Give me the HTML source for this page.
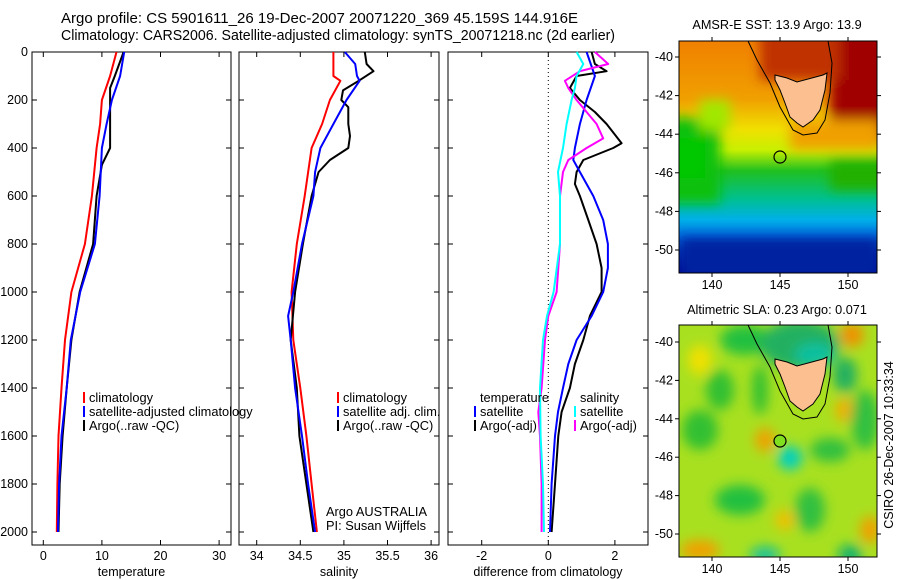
<!DOCTYPE html>
<html><head><meta charset="utf-8"><style>
body{margin:0;background:#fff;}
svg{display:block;font-family:"Liberation Sans",sans-serif;}
</style></head><body>
<svg id="fig" width="900" height="580" viewBox="0 0 900 580" xmlns="http://www.w3.org/2000/svg">
<defs>
<filter id="bl" x="-20%" y="-20%" width="140%" height="140%"><feGaussianBlur stdDeviation="6"/></filter>
<clipPath id="c1"><rect x="679" y="41" width="198" height="232"/></clipPath>
<clipPath id="c2"><rect x="679" y="325" width="198" height="232"/></clipPath>
<linearGradient id="sstg" x1="0" y1="0" x2="0" y2="1">
<stop offset="0" stop-color="#f08000"/><stop offset="0.25" stop-color="#f0a000"/><stop offset="0.38" stop-color="#f0e000"/>
<stop offset="0.47" stop-color="#c8f000"/><stop offset="0.56" stop-color="#20c020"/><stop offset="0.68" stop-color="#00c090"/>
<stop offset="0.77" stop-color="#00b0e8"/><stop offset="0.84" stop-color="#0070e0"/><stop offset="0.92" stop-color="#0030b0"/><stop offset="1" stop-color="#000090"/>
</linearGradient>
</defs>
<g font-size="14.5">
<text x="61" y="23" textLength="517" lengthAdjust="spacingAndGlyphs">Argo profile: CS 5901611_26 19-Dec-2007 20071220_369 45.159S 144.916E</text>
<text x="61" y="40" textLength="554" lengthAdjust="spacingAndGlyphs">Climatology: CARS2006. Satellite-adjusted climatology: synTS_20071218.nc (2d earlier)</text>
</g>
<g id="axes"></g>
<g id="series"></g>

<g>
<text x="777" y="29" font-size="12.7" text-anchor="middle">AMSR-E SST: 13.9 Argo: 13.9</text>
<g clip-path="url(#c1)">
<rect x="679" y="41" width="198" height="232" fill="url(#sstg)"/>
<g filter="url(#bl)">
<rect x="660" y="118" width="60" height="85" fill="#10c010"/>
<rect x="660" y="138" width="45" height="40" fill="#00c800"/>
<rect x="700" y="100" width="30" height="30" fill="#a0e800"/>
<rect x="830" y="20" width="60" height="120" fill="#a00000"/>
<rect x="760" y="30" width="80" height="50" fill="#c03000"/>
<rect x="790" y="120" width="90" height="30" fill="#f0a000"/>
<rect x="830" y="160" width="60" height="30" fill="#20b000"/>
<rect x="680" y="238" width="200" height="40" fill="#0020a0"/>
</g>
</g>
<path d="M748,41 L757,60 L770,83 L780,107 L793,130 L803,135 L817,133 L825,120 L830,93 L832,63 L828,41" fill="none" stroke="#000" stroke-width="1"/>
<polygon points="775,75 787,78 797,82 823,75 827,73 825,90 820,110 813,120 803,127 797,123 790,117 785,103 780,90 775,80" fill="#fcc090" stroke="#000" stroke-width="1"/>
<circle cx="780" cy="157" r="6" fill="none" stroke="#000" stroke-width="1.2"/>
<rect x="679" y="41" width="198" height="232" fill="none" stroke="#000"/>
</g>

<g>
<text x="777" y="314" font-size="12.7" text-anchor="middle">Altimetric SLA: 0.23 Argo: 0.071</text>
<g clip-path="url(#c2)">
<rect x="679" y="325" width="198" height="232" fill="#a8e020"/>
<g filter="url(#bl)">
<ellipse cx="745" cy="340" rx="25" ry="15" fill="#20c040"/>
<ellipse cx="800" cy="345" rx="40" ry="25" fill="#20b060"/>
<ellipse cx="815" cy="355" rx="20" ry="12" fill="#10c0a0"/>
<ellipse cx="852" cy="335" rx="12" ry="12" fill="#f09000"/>
<ellipse cx="845" cy="375" rx="12" ry="18" fill="#20b060"/>
<ellipse cx="700" cy="360" rx="12" ry="15" fill="#f0e000"/>
<ellipse cx="720" cy="390" rx="14" ry="20" fill="#30c030"/>
<ellipse cx="700" cy="430" rx="18" ry="20" fill="#30c030"/>
<ellipse cx="760" cy="390" rx="8" ry="25" fill="#30c030"/>
<ellipse cx="765" cy="440" rx="10" ry="12" fill="#f0a000"/>
<ellipse cx="790" cy="458" rx="12" ry="12" fill="#00d0c0"/>
<ellipse cx="830" cy="450" rx="20" ry="12" fill="#30c040"/>
<ellipse cx="845" cy="410" rx="10" ry="12" fill="#f0b000"/>
<ellipse cx="865" cy="420" rx="14" ry="30" fill="#30c040"/>
<ellipse cx="740" cy="500" rx="25" ry="15" fill="#20c040"/>
<ellipse cx="810" cy="510" rx="15" ry="22" fill="#30c040"/>
<ellipse cx="785" cy="520" rx="10" ry="10" fill="#f0c000"/>
<ellipse cx="870" cy="530" rx="10" ry="14" fill="#f0a000"/>
<ellipse cx="700" cy="550" rx="20" ry="10" fill="#f0a000"/>
<ellipse cx="765" cy="555" rx="15" ry="8" fill="#10c0a0"/>
<ellipse cx="850" cy="555" rx="12" ry="10" fill="#10b070"/>
</g>
</g>
<path d="M748,325 L757,344 L770,367 L780,391 L793,414 L803,419 L817,417 L825,404 L830,377 L832,347 L828,325" fill="none" stroke="#000" stroke-width="1"/>
<polygon points="775,359 787,362 797,366 823,359 827,357 825,374 820,394 813,404 803,411 797,407 790,401 785,387 780,374 775,364" fill="#fcc090" stroke="#000" stroke-width="1"/>
<circle cx="780" cy="441" r="6" fill="#80e020" stroke="#000" stroke-width="1.2"/>
<rect x="679" y="325" width="198" height="232" fill="none" stroke="#000"/>
</g>
<text transform="translate(893,445) rotate(-90)" font-size="12.5" text-anchor="middle">CSIRO 26-Dec-2007 10:33:34</text>
<g id="mapaxes"></g>
</svg>
<script>
const tDepthClim = [0,100,200,300,400,600,800,1000,1200,1400,1600,1800,2000];
const tempClim   = [12.5,11.4,10.0,9.7,9.1,8.3,7.1,4.8,3.7,3.1,2.6,2.4,2.3];
const tDepthSat  = [0,100,200,300,400,600,800,1000,1200,1400,1600,1800,2000];
const tempSat    = [13.8,13.1,11.7,10.8,10.0,9.6,8.8,6.3,4.7,4.0,3.1,2.7,2.5];
const tDepthArgo = [0,100,150,200,300,400,470,600,800,1000,1200,1400,1600,1800,2000];
const tempArgo   = [13.7,12.2,11.4,11.4,11.4,11.4,10.0,9.1,8.5,6.2,4.8,4.0,3.3,2.8,2.6];

const sDepthClim = [0,100,120,200,300,400,600,800,1000,1200,1400,1600,1800,2000];
const salClim    = [34.88,34.88,34.96,34.84,34.75,34.63,34.55,34.46,34.40,34.42,34.50,34.57,34.63,34.69];
const sDepthSat  = [0,50,100,120,200,300,400,500,600,800,1000,1100,1200,1400,1600,1800,2000];
const salSat     = [35.01,35.13,35.15,35.18,35.03,34.88,34.73,34.67,34.65,34.52,34.42,34.36,34.39,34.44,34.52,34.59,34.67];
const sDepthArgo = [0,50,80,120,160,200,230,300,350,400,450,500,600,800,1000,1200,1400,1600,1800,2000];
const salArgo    = [35.24,35.26,35.34,35.17,34.99,34.97,35.05,35.05,35.07,35.05,34.84,34.71,34.63,34.53,34.44,34.39,34.46,34.49,34.57,34.65];

const dDepthTSat = [0,100,200,300,400,450,500,600,700,800,900,1000,1100,1200,1300,1400,1500,1600,1800,2000];
const diffTSat   = [1.15,1.40,1.15,0.95,0.80,0.75,0.95,1.35,1.65,1.79,1.79,1.65,1.30,0.85,0.60,0.44,0.29,0.20,0.10,0.05];
const dDepthTArgo= [0,50,80,100,150,200,250,300,380,400,450,500,550,600,700,800,900,1000,1100,1200,1300,1400,1500,1600,1800,2000];
const diffTArgo  = [1.30,1.40,1.75,0.85,0.65,0.95,1.40,1.75,2.20,1.95,1.05,0.85,0.80,0.95,1.20,1.45,1.60,1.60,1.25,1.05,0.80,0.65,0.40,0.30,0.20,0.10];
const dDepthSSat = [0,50,100,150,200,300,400,500,600,800,1000,1100,1200,1400,1600,1800,2000];
const diffSSat   = [0.85,1.05,0.85,0.80,0.70,0.55,0.44,0.29,0.35,0.35,0.16,-0.04,-0.16,-0.25,-0.23,-0.16,-0.13];
const dDepthSArgo= [0,50,80,120,150,200,250,300,360,400,450,500,600,800,1000,1100,1200,1400,1500,1600,1800,2000];
const diffSArgo  = [1.40,1.80,0.95,0.50,0.60,0.85,1.15,1.45,1.65,1.15,0.60,0.44,0.35,0.35,0.25,0.00,-0.10,-0.20,-0.30,-0.25,-0.20,-0.20];

const depthTicks = [0,200,400,600,800,1000,1200,1400,1600,1800,2000];
const tempTicks = [0,10,20,30];
const salTicks = [34,34.5,35,35.5,36];
const salTickLabels = ["34","34.5","35","35.5","36"];
const diffTicks = [-2,0,2];
const lonTicks = [140,145,150];
const latTicks = [-40,-42,-44,-46,-48,-50];

const NS="http://www.w3.org/2000/svg";
function mk(tag, attrs, parent, txt){const e=document.createElementNS(NS,tag);for(const k in attrs)e.setAttribute(k,attrs[k]);if(txt!==undefined)e.textContent=txt;parent.appendChild(e);return e;}
const yD = d => 52 + d*0.24;
const panels = [
 {x0:32,x1:231,ax:v=>43.3+v*5.86,ticks:tempTicks,labels:tempTicks.map(String),title:"temperature",name:"temperature-panel"},
 {x0:239,x1:439,ax:v=>256.7+(v-34)*87.2,ticks:salTicks,labels:salTickLabels,title:"salinity",name:"salinity-panel"},
 {x0:448,x1:648,ax:v=>548.3+v*33.3,ticks:diffTicks,labels:diffTicks.map(String),title:"difference from climatology",name:"difference-panel"}
];
const axg=document.getElementById('axes');
panels.forEach((p,i)=>{
  const g=mk('g',{},axg);
  
  
  mk('rect',{x:p.x0,y:52,width:p.x1-p.x0,height:493,fill:'none',stroke:'#000','stroke-width':1},g);
  p.ticks.forEach((t,j)=>{const x=p.ax(t);
    mk('line',{x1:x,y1:545,x2:x,y2:540,stroke:'#000'},g);
    mk('line',{x1:x,y1:52,x2:x,y2:57,stroke:'#000'},g);
    const tl=mk('text',{x:x,y:560,'font-size':12.5,'text-anchor':'middle'},g,p.labels[j]);
    
    
  });
  depthTicks.forEach(d=>{const y=yD(d);
    mk('line',{x1:p.x0,y1:y,x2:p.x0+5,y2:y,stroke:'#000'},g);
    mk('line',{x1:p.x1,y1:y,x2:p.x1-5,y2:y,stroke:'#000'},g);
    if(i===0){const tl=mk('text',{x:28,y:y+4,'font-size':12.5,'text-anchor':'end'},g,String(d));
      
      }
  });
  const at=mk('text',{x:(p.x0+p.x1)/2,y:576,'font-size':12.5,'text-anchor':'middle'},g,p.title);
  
  
});
mk('line',{x1:548.3,y1:52,x2:548.3,y2:545,stroke:'#000','stroke-dasharray':'1,3'},axg);

const sg=document.getElementById('series');
function line(p,depths,vals,color,name){
  const pts=depths.map((d,k)=>p.ax(vals[k]).toFixed(1)+','+yD(d).toFixed(1)).join(' ');
  const l=mk('polyline',{points:pts,fill:'none',stroke:color,'stroke-width':2,'stroke-linejoin':'round'},sg);
  
  
}
line(panels[0],tDepthClim,tempClim,'#f00','temp-climatology-line');
line(panels[0],tDepthArgo,tempArgo,'#000','temp-argo-line');
line(panels[0],tDepthSat,tempSat,'#00f','temp-satellite-line');
line(panels[1],sDepthClim,salClim,'#f00','sal-climatology-line');
line(panels[1],sDepthArgo,salArgo,'#000','sal-argo-line');
line(panels[1],sDepthSat,salSat,'#00f','sal-satellite-line');
line(panels[2],dDepthTArgo,diffTArgo,'#000','diff-temp-argo-line');
line(panels[2],dDepthTSat,diffTSat,'#00f','diff-temp-satellite-line');
line(panels[2],dDepthSArgo,diffSArgo,'#f0f','diff-sal-argo-line');
line(panels[2],dDepthSSat,diffSSat,'#0ff','diff-sal-satellite-line');

function legend(x,y,items,name){
  const g=mk('g',{},sg);
  
  
  items.forEach((it,k)=>{const yy=y+k*14;
    if(it[1]){mk('rect',{x:x,y:yy-10,width:2,height:11,fill:it[1]},g);}
    const t=mk('text',{x:x+6,y:yy,'font-size':12.8},g,it[0]);
    
    
  });
}
legend(83,402,[["climatology","#f00"],["satellite-adjusted climatology","#00f"],["Argo(..raw -QC)","#000"]],'temp-legend');
legend(337,402,[["climatology","#f00"],["satellite adj. clim.","#00f"],["Argo(..raw -QC)","#000"]],'sal-legend');
legend(474,402,[["temperature",null],["satellite","#00f"],["Argo(-adj)","#000"]],'diff-temp-legend');
legend(574,402,[["salinity",null],["satellite","#0ff"],["Argo(-adj)","#f0f"]],'diff-sal-legend');
const a1=mk('text',{x:326,y:516,'font-size':12.8},sg,'Argo AUSTRALIA');


const a2=mk('text',{x:326,y:530,'font-size':12.8},sg,'PI: Susan Wijffels');



const mg=document.getElementById('mapaxes');
[[41,273,57,250],[325,557,342,534]].forEach(m=>{
  const lonX=v=>712+(v-140)*13.6;
  const latY=v=>m[2]+(-40-v)*(m[3]-m[2])/10;
  lonTicks.forEach(v=>{const x=lonX(v);
    mk('line',{x1:x,y1:m[1],x2:x,y2:m[1]+4,stroke:'#000'},mg);
    mk('line',{x1:x,y1:m[0],x2:x,y2:m[0]-4,stroke:'#000'},mg);
    const t=mk('text',{x:x,y:m[1]+16,'font-size':12.5,'text-anchor':'middle'},mg,String(v));
    
    
  });
  latTicks.forEach(v=>{const y=latY(v);
    mk('line',{x1:679,y1:y,x2:675,y2:y,stroke:'#000'},mg);
    mk('line',{x1:877,y1:y,x2:881,y2:y,stroke:'#000'},mg);
    const t=mk('text',{x:673,y:y+4,'font-size':12.5,'text-anchor':'end'},mg,String(v));
    
    
  });
});
</script>
</body></html>
